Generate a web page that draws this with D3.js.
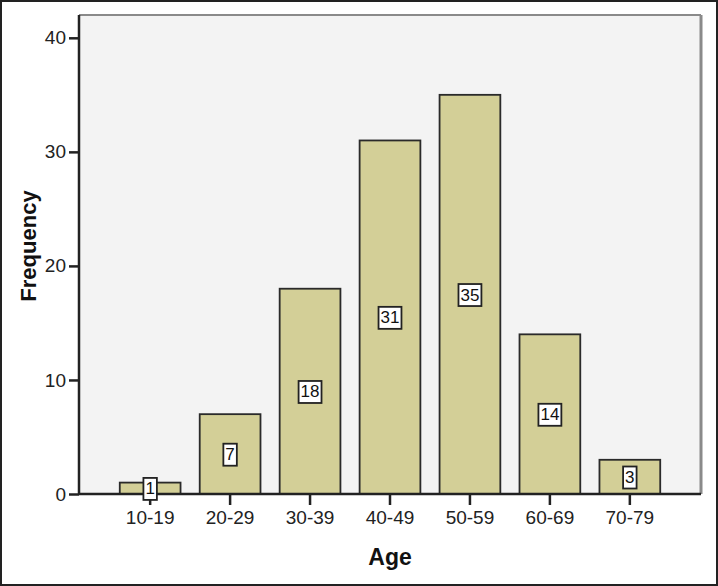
<!DOCTYPE html>
<html>
<head>
<meta charset="utf-8">
<script src="https://cdn.jsdelivr.net/npm/d3@7"></script>
<style>
  body { margin: 0; background: #fff; }
  text { font-family: "Liberation Sans", Arial, sans-serif; }
</style>
</head>
<body>
<div id="chart"></div>
<script>
// data
var ageGroups = ["10-19", "20-29", "30-39", "40-49", "50-59", "60-69", "70-79"];
var frequency = [1, 7, 18, 31, 35, 14, 3];
var yTicks = [0, 10, 20, 30, 40];

const width = 718, height = 586;
const margin = {top: 15, right: 17, bottom: 92, left: 79};
const innerWidth = width - margin.left - margin.right;
const innerHeight = height - margin.top - margin.bottom;

const data = ageGroups.map((a, i) => ({age: a, n: frequency[i]}));

const svg = d3.select('#chart')
    .append('svg')
    .attr('width', width)
    .attr('height', height);

// outer frame
svg.append('rect')
    .attr('x', 1).attr('y', 1)
    .attr('width', width - 2).attr('height', height - 2)
    .attr('fill', '#fff')
    .attr('stroke', '#222')
    .attr('stroke-width', 2);

const g = svg.append('g')
    .attr('transform', `translate(${margin.left},${margin.top})`);

const xScale = d3.scaleBand()
    .domain(ageGroups)
    .range([0, innerWidth])
    .paddingInner(0.24)
    .paddingOuter(0.51);

const yScale = d3.scaleLinear()
    .domain([0, 42])
    .range([innerHeight, 0]);

// plot background
g.append('rect')
    .attr('width', innerWidth)
    .attr('height', innerHeight)
    .attr('fill', '#f3f3f3');

// top and right borders of plot area
g.append('line')
    .attr('x1', 0).attr('x2', innerWidth)
    .attr('y1', 0).attr('y2', 0)
    .attr('stroke', '#8a8a8a').attr('stroke-width', 2);
g.append('line')
    .attr('x1', innerWidth).attr('x2', innerWidth)
    .attr('y1', 0).attr('y2', innerHeight)
    .attr('stroke', '#8a8a8a').attr('stroke-width', 3);

// bars
g.selectAll('.bar')
    .data(data)
    .enter()
    .append('rect')
    .attr('class', 'bar')
    .attr('x', d => xScale(d.age))
    .attr('y', d => yScale(d.n))
    .attr('width', xScale.bandwidth())
    .attr('height', d => innerHeight - yScale(d.n))
    .attr('fill', '#d3cf97')
    .attr('stroke', '#2a2a2a')
    .attr('stroke-width', 1.8);

// axes
const xAxis = d3.axisBottom(xScale).tickSize(11).tickSizeOuter(0).tickPadding(6);
const yAxis = d3.axisLeft(yScale).tickValues(yTicks).tickSize(10).tickSizeOuter(0).tickPadding(3);

const gx = g.append('g')
    .attr('transform', `translate(0,${innerHeight})`)
    .call(xAxis);
const gy = g.append('g')
    .call(yAxis);

[gx, gy].forEach(ax => {
    ax.select('.domain').attr('stroke', '#222').attr('stroke-width', 2.5);
    ax.selectAll('.tick line').attr('stroke', '#222').attr('stroke-width', 2.5);
    ax.selectAll('.tick text')
        .attr('fill', '#222')
        .style('font-size', '19px')
        .style('font-family', '"Liberation Sans", Arial, sans-serif');
});
gy.select('.domain').attr('d', `M0,0V${innerHeight}`);
gx.select('.domain').attr('d', `M0,0H${innerWidth}`);

// value labels in boxes
const labels = g.selectAll('.lbl')
    .data(data)
    .enter()
    .append('g')
    .attr('class', 'lbl')
    .attr('transform', d => `translate(${xScale(d.age) + xScale.bandwidth() / 2},${yScale(d.n / 2)})`);

labels.append('text')
    .attr('text-anchor', 'middle')
    .attr('dy', '0.36em')
    .style('font-size', '17px')
    .attr('fill', '#111')
    .text(d => d.n);

labels.each(function() {
    const t = d3.select(this).select('text');
    const b = t.node().getBBox();
    d3.select(this).insert('rect', 'text')
        .attr('x', b.x - 2)
        .attr('y', b.y - 1.5)
        .attr('width', b.width + 4)
        .attr('height', b.height + 3)
        .attr('fill', '#fff')
        .attr('stroke', '#222')
        .attr('stroke-width', 1.8);
});

// axis titles
svg.append('text')
    .attr('x', margin.left + xScale('40-49') + xScale.bandwidth() / 2)
    .attr('y', 565)
    .attr('text-anchor', 'middle')
    .style('font-size', '23px')
    .style('font-weight', 'bold')
    .attr('fill', '#111')
    .text('Age');

svg.append('text')
    .attr('transform', 'translate(36,246) rotate(-90)')
    .attr('text-anchor', 'middle')
    .style('font-size', '22px')
    .style('font-weight', 'bold')
    .attr('fill', '#111')
    .text('Frequency');
</script>
</body>
</html>
